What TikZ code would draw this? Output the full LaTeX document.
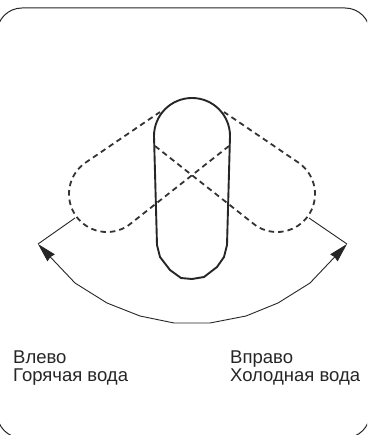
\documentclass[tikz,border=0pt]{standalone}
\usepackage{fontspec}
\setmainfont{Liberation Sans}
\usetikzlibrary{arrows.meta}
\tikzset{
  slotline/.style={draw=black!85,line width=1.9pt,line join=round},
  dashline/.style={draw=black!80,line width=1.8pt,dash pattern=on 5.5pt off 4pt},
  thinline/.style={draw=black!85,line width=0.9pt,line join=round},
  arrowline/.style={thinline,-{Stealth[length=19pt,width=10pt,inset=1pt]}},
  framerect/.style={draw=black!85,line width=1pt,rounded corners=25pt},
  lbl/.style={anchor=base west,inner sep=0pt,font=\fontsize{18.5}{20}\selectfont,text=black!85}
}
\begin{document}
\begin{tikzpicture}[x=1pt,y=-1pt]
\path[use as bounding box,clip] (0,0) rectangle (367,435);
\path[fill=white] (0,0) rectangle (367,435);
\path[framerect] (-3,8) rectangle (370,438);
% centre position
\path[slotline] (157,245) -- (154,136) arc[start angle=180,end angle=360,radius=38] -- (227,245)
  -- (224,257) -- (217,267) -- (204,277) -- (192,279) -- (181,278) -- (170,270) -- (160,257) -- cycle;
% left position
\path[dashline] (229,146) -- (128.4,225.4) arc[start angle=55.7,end angle=235.7,radius=38] -- (160,112);
% right position
\path[dashline] (155,146) -- (255.6,225.4) arc[start angle=124.3,end angle=-55.7,radius=38] -- (224,112);
% travel limits
\coordinate (ltip) at (38,244);
\coordinate (rtip) at (347,244);
\path[thinline] (75,218) -- (ltip);
\path[thinline] (309,218) -- (rtip);
\path[thinline] (75,283) -- (107,303) -- (140,316) -- (174,323) -- (210,323) -- (246,316) -- (278,303) -- (310,283);
\path[arrowline] (75,283) -- (ltip);
\path[arrowline] (310,283) -- (rtip);
\node[lbl] (l1) at (13,363) {Влево};
\node[lbl] (l2) at (13,381) {Горячая вода};
\node[lbl] (r1) at (230,363) {Вправо};
\node[lbl] (r2) at (230,381) {Холодная вода};
\end{tikzpicture}
\end{document}
